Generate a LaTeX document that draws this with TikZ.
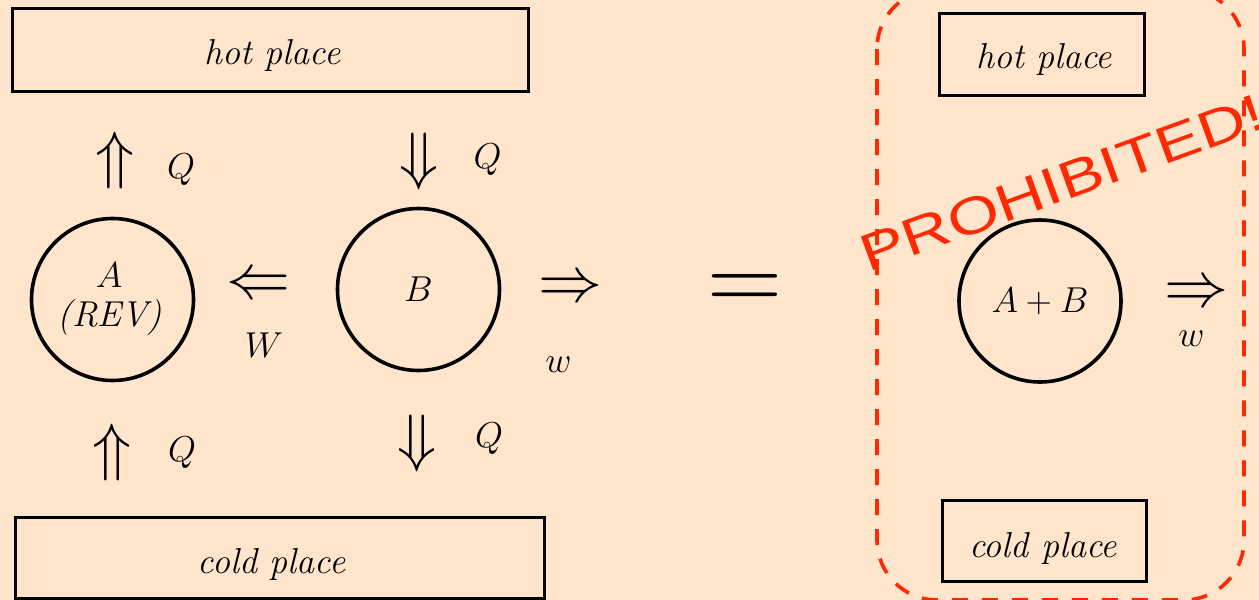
\RequirePackage{fix-cm}
\documentclass[tikz,border=0pt]{standalone}
\usepackage{fontspec}
\newfontfamily\stampfont{Liberation Sans}
\definecolor{paper}{RGB}{255,229,204}
\definecolor{stampred}{RGB}{255,40,0}
\tikzset{
  box/.style={draw,line width=3.8pt,rectangle,inner sep=0pt},
  engine/.style={draw,circle,line width=3.6pt,inner sep=0pt,minimum size=162pt,font=\fontsize{36}{40}\selectfont},
  placetext/.style={inner sep=0pt,font=\fontsize{36}{40}\selectfont\itshape},
  lbl/.style={inner sep=0pt,font=\fontsize{36}{40}\selectfont},
  bigarrow/.style={inner sep=0pt,font=\fontsize{64}{70}\selectfont},
  eqsign/.style={inner sep=0pt,font=\fontsize{104}{110}\selectfont},
  stamp/.style={text=stampred,inner sep=0pt,anchor=base,font=\stampfont\fontsize{52}{56}\selectfont},
  region/.style={draw=stampred,line width=3.6pt,dash pattern=on 16pt off 14pt,rounded corners=60pt}
}
\begin{document}
\begin{tikzpicture}[x=1pt,y=-1pt]
\fill[paper] (0,0) rectangle (1259,600);
\useasboundingbox (0,0) rectangle (1259,600);
\clip (0,0) rectangle (1259,600);

% left side
\node[box,minimum width=516pt,minimum height=83pt] (hotL) at (270.5,50) {};
\node[placetext] (hotLt) at (272.5,55) {hot place};
\node[box,minimum width=529pt,minimum height=81pt] (coldL) at (280,558) {};
\node[placetext] (coldLt) at (271.5,564) {cold place};

\node[engine] (A) at (112.5,299.5) {};
\node[lbl] (Alab) at (109,275) {$A$};
\node[placetext] (REV) at (110,318) {(REV)};
\node[engine] (B) at (418.5,289.5) {$B$};

\node[bigarrow] (upAh) at (115,160) {$\Uparrow$};
\node[lbl] (QAh) at (181,170) {$Q$};
\node[bigarrow] (upAc) at (112.5,452) {$\Uparrow$};
\node[lbl] (QAc) at (182,453) {$Q$};
\node[bigarrow] (dnBh) at (419.5,161.5) {$\Downarrow$};
\node[lbl] (QBh) at (487.5,160) {$Q$};
\node[bigarrow] (dnBc) at (417.5,443.5) {$\Downarrow$};
\node[lbl] (QBc) at (489,439) {$Q$};
\node[bigarrow] (lW) at (258.5,286.5) {$\Leftarrow$};
\node[lbl] (W) at (264,345) {$W$};
\node[bigarrow] (rw) at (570,290) {$\Rightarrow$};
\node[lbl] (w) at (558.5,365) {$w$};

% equals
\node[eqsign] (eq) at (745,293) {$=$};

% right side
\draw[region] (877,-11) rectangle (1244,600);
\node[box,minimum width=205pt,minimum height=82pt] (hotR) at (1042,54.5) {};
\node[placetext] (hotRt) at (1044,59) {hot place};
\node[box,minimum width=204pt,minimum height=81pt] (coldR) at (1044.5,541) {};
\node[placetext] (coldRt) at (1043,548) {cold place};
\node[engine] (AB) at (1040,301) {$A+B$};
\node[bigarrow] (rw2) at (1196.5,295) {$\Rightarrow$};
\node[lbl] (w2) at (1191.5,338.5) {$w$};

\node[stamp,rotate=20,xscale=1.28] (stampnode) at (1068,200) {PROHIBITED!};
\end{tikzpicture}
\end{document}
